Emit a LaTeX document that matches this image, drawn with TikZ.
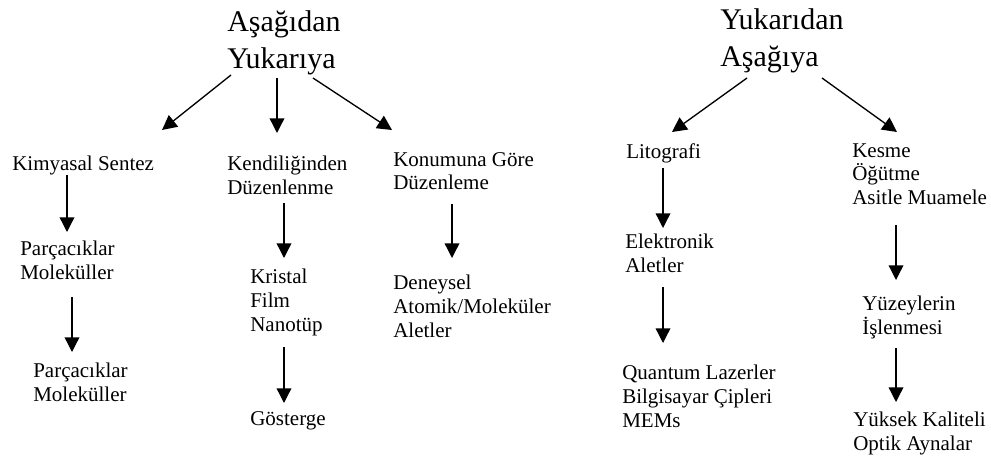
\documentclass[tikz,border=0pt]{standalone}
\usepackage{fontspec}
\setmainfont{Liberation Serif}
\usetikzlibrary{positioning, calc, arrows.meta}

\begin{document}
\begin{tikzpicture}[x=0.75pt, y=-0.75pt,
title/.style={anchor=north west, inner sep=0pt, align=left, font=\fontsize{22.5}{28}\selectfont},
item/.style={anchor=north west, inner sep=0pt, align=left, font=\fontsize{15.75}{17.8}\selectfont},
flow/.style={-{Triangle[length=11pt, width=11pt]}, line width=1pt},
]
\path[use as bounding box] (0,0) rectangle (991,460);

%Nodes
\node [title] (bottomup) at (227,10) {Aşağıdan\\Yukarıya};
\node [title] (topdown) at (720,8) {Yukarıdan\\Aşağıya};

\node [item] (kim) at (12,156) {Kimyasal Sentez};
\node [item] (kend) at (227,156) {Kendiliğinden\\Düzenlenme};
\node [item] (konum) at (393,152) {Konumuna Göre\\Düzenleme};
\node [item] (lito) at (626,143) {Litografi};
\node [item] (kesme) at (852,143) {Kesme\\Öğütme\\Asitle Muamele};

\node [item] (parc1) at (20,241) {Parçacıklar\\Moleküller};
\node [item] (parc2) at (33,363) {Parçacıklar\\Moleküller};
\node [item] (krist) at (250,269) {Kristal\\Film\\Nanotüp};
\node [item] (goster) at (250,411) {Gösterge};
\node [item] (deney) at (393,275) {Deneysel\\Atomik/Moleküler\\Aletler};
\node [item] (elek) at (625,234) {Elektronik\\Aletler};
\node [item] (quant) at (622,365) {Quantum Lazerler\\Bilgisayar Çipleri\\MEMs};
\node [item] (yuzey) at (862,296) {Yüzeylerin\\İşlenmesi};
\node [item] (yuksek) at (853,412) {Yüksek Kaliteli\\Optik Aynalar};

% Paths
\draw [flow] ($(bottomup.north west)+(4,65)$) -- ($(kim.north west)+(150,-26)$);
\draw [flow] ($(bottomup.north west)+(50,68)$) -- ($(kend.north west)+(50,-23)$);
\draw [flow] ($(bottomup.north west)+(86,68)$) -- ($(konum.north west)+(-1,-22)$);
\draw [flow] ($(topdown.north west)+(27,70)$) -- ($(lito.north west)+(46,-11)$);
\draw [flow] ($(topdown.north west)+(102,70)$) -- ($(kesme.north west)+(45,-11)$);

\draw [flow] ($(kim.north west)+(55,19)$) -- ($(parc1.north west)+(47,-9)$);
\draw [flow] ($(parc1.north west)+(52,56)$) -- ($(parc2.north west)+(39,-11)$);
\draw [flow] ($(kend.north west)+(57,47)$) -- ($(krist.north west)+(34,-11)$);
\draw [flow] ($(krist.north west)+(34,78)$) -- ($(goster.north west)+(34,-8)$);
\draw [flow] ($(konum.north west)+(59,52)$) -- ($(deney.north west)+(59,-17)$);
\draw [flow] ($(lito.north west)+(37,25)$) -- ($(elek.north west)+(38,-6)$);
\draw [flow] ($(elek.north west)+(38,53)$) -- ($(quant.north west)+(41,-22)$);
\draw [flow] ($(kesme.north west)+(44,82)$) -- ($(yuzey.north west)+(34,-16)$);
\draw [flow] ($(yuzey.north west)+(34,52)$) -- ($(yuksek.north west)+(43,-10)$);
\end{tikzpicture}
\end{document}
